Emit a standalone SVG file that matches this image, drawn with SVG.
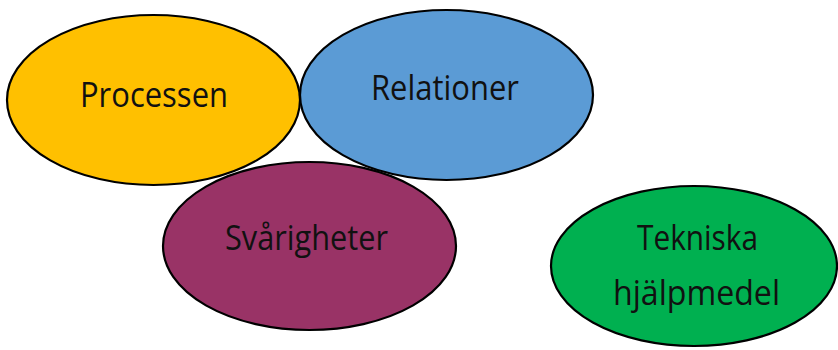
<svg xmlns="http://www.w3.org/2000/svg" width="838" height="350" viewBox="0 0 838 350">
<style>
.n{stroke:#000;stroke-width:2.2}
.t{font-family:"Open Sans","Liberation Sans",sans-serif;font-size:34px;fill:#111;text-anchor:middle}
</style>
<rect width="838" height="350" fill="#fff"/>
<g id="processen"><ellipse class="n" cx="153.5" cy="100" rx="146.5" ry="85" fill="#FFC000"/><text class="t" x="154" y="107" textLength="148" lengthAdjust="spacingAndGlyphs">Processen</text></g>
<g id="relationer"><ellipse class="n" cx="446.5" cy="95" rx="146.5" ry="85" fill="#5B9BD5"/><text class="t" x="445" y="100" textLength="148" lengthAdjust="spacingAndGlyphs">Relationer</text></g>
<g id="svarigheter"><ellipse class="n" cx="309.5" cy="246" rx="146.5" ry="84" fill="#993366"/><text class="t" x="306.5" y="250" textLength="163" lengthAdjust="spacingAndGlyphs">Svårigheter</text></g>
<g id="tekniska"><ellipse class="n" cx="694" cy="266" rx="143" ry="80" fill="#00B050"/><text class="t" x="697.5" y="250" textLength="121" lengthAdjust="spacingAndGlyphs">Tekniska</text><text class="t" x="696.5" y="305" textLength="167" lengthAdjust="spacingAndGlyphs">hjälpmedel</text></g>
<g id="connectors"/>
</svg>
